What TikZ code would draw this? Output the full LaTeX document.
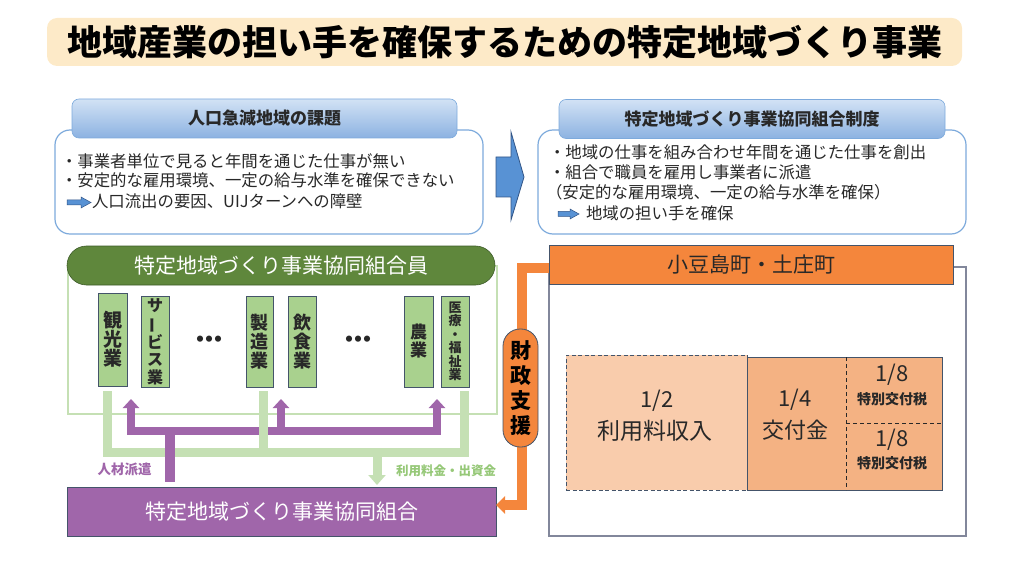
\documentclass[tikz,border=0pt]{standalone}
\usepackage{fontspec}
\setmainfont{Noto Sans CJK JP}
\usetikzlibrary{arrows.meta}
\definecolor{titlebg}{RGB}{253,234,200}
\definecolor{hdrtop}{RGB}{210,226,245}
\definecolor{hdrbot}{RGB}{140,178,225}
\definecolor{bxline}{RGB}{125,170,220}
\definecolor{arrfill}{RGB}{88,146,212}
\definecolor{arrline}{RGB}{50,85,135}
\definecolor{gban}{RGB}{95,135,60}
\definecolor{gbanline}{RGB}{60,90,40}
\definecolor{indg}{RGB}{169,209,142}
\definecolor{lgreen}{RGB}{197,224,180}
\definecolor{purp}{RGB}{160,102,170}
\definecolor{orng}{RGB}{244,134,60}
\definecolor{peach}{RGB}{249,204,172}
\definecolor{peach2}{RGB}{244,178,131}
\definecolor{dkb}{RGB}{68,84,106}
\definecolor{townline}{RGB}{130,135,155}
\definecolor{txtd}{RGB}{40,40,40}
\definecolor{lbltxt}{RGB}{150,200,120}
\begin{document}
\begin{tikzpicture}[x=1pt,y=-1pt,
  every node/.style={inner sep=0pt,outer sep=0pt},
  hdr/.style={draw=bxline,line width=0.6pt,rounded corners=7pt,top color=hdrtop,bottom color=hdrbot,
    minimum height=39pt,font=\fontsize{17}{20}\selectfont\bfseries,text=txtd},
  cbox/.style={draw=bxline,line width=1.2pt,rounded corners=15pt,fill=white,minimum height=104pt},
  bodytxt/.style={anchor=west,font=\fontsize{16.4}{19}\selectfont,text=txtd},
  ind/.style={draw=dkb,line width=0.8pt,fill=indg,minimum width=28pt,minimum height=91pt,align=center,
    font=\fontsize{18}{18.7}\selectfont\bfseries,text=txtd},
  gbar/.style={draw=lgreen,line width=9pt},
  pbar/.style={draw=purp,line width=8pt},
  oline/.style={draw=orng,line width=10pt},
  smallarr/.style={fill=arrfill,draw=arrline,line width=0.5pt},
  frac/.style={font=\fontsize{22}{24}\selectfont,text=txtd},
  fsub/.style={font=\fontsize{14}{16}\selectfont\bfseries,text=txtd}
]
\useasboundingbox (0,0) rectangle (1024,577);

% title
\node[fill=titlebg,rounded corners=10pt,minimum width=915pt,minimum height=48pt,
  font=\fontsize{35}{40}\selectfont\bfseries,text=black] (title) at (504.5,42) {地域産業の担い手を確保するための特定地域づくり事業};

% left problem box
\node[cbox,minimum width=428pt] (lbox) at (269,182) {};
\node[hdr,minimum width=385pt] (lhdr) at (264.5,118.5) {人口急減地域の課題};
\node[bodytxt] (l1) at (61,161) {・事業者単位で見ると年間を通じた仕事が無い};
\node[bodytxt] (l2) at (61,180.5) {・安定的な雇用環境、一定の給与水準を確保できない};
\draw[smallarr] (67,200) -- (81,200) -- (81,197) -- (91,202.5) -- (81,208) -- (81,205) -- (67,205) -- cycle;
\node[bodytxt] (l3) at (92,201) {人口流出の要因、UIJターンへの障壁};

% big arrow
\draw[fill=arrfill,draw=arrline,line width=0.8pt] (496,157) -- (511,157) -- (511,132) -- (524,177) -- (511,220) -- (511,197) -- (496,197) -- cycle;

% right system box
\node[cbox,minimum width=428pt] (rbox) at (752,182) {};
\node[hdr,minimum width=386pt] (rhdr) at (752,119) {特定地域づくり事業協同組合制度};
\node[bodytxt] (r1) at (549,152) {・地域の仕事を組み合わせ年間を通じた仕事を創出};
\node[bodytxt] (r2) at (549,172) {・組合で職員を雇用し事業者に派遣};
\node[bodytxt] (r3) at (546,192) {（安定的な雇用環境、一定の給与水準を確保）};
\draw[smallarr] (558,211.5) -- (570,211.5) -- (570,209) -- (579,214) -- (570,219) -- (570,216.5) -- (558,216.5) -- cycle;
\node[bodytxt] (r4) at (586,213) {地域の担い手を確保};

% members area
\draw[draw=lgreen,line width=2pt] (68,266) rectangle (497,414);
\node[fill=gban,draw=gbanline,line width=0.6pt,rounded corners=19.5pt,minimum width=428pt,minimum height=39pt,
  font=\fontsize{21}{24}\selectfont,text=white] (mem) at (281,265.5) {特定地域づくり事業協同組合員};

\node[ind,minimum width=29pt,minimum height=93pt,font=\fontsize{19}{19}\selectfont\bfseries] (kanko) at (112.5,339.5) {観\\光\\業};
\node[ind,font=\fontsize{16}{17.5}\selectfont\bfseries] (serv) at (155,341.5) {サ\\\rotatebox[origin=c]{90}{ー}\\ビ\\ス\\業};
\node[ind,minimum width=27pt] (seizo) at (259.5,341.5) {製\\造\\業};
\node[ind] (inshoku) at (302,341.5) {飲\\食\\業};
\node[ind,minimum width=29pt,font=\fontsize{17}{18}\selectfont\bfseries] (nogyo) at (418.5,341.5) {農\\業};
\node[ind,font=\fontsize{13}{13.5}\selectfont\bfseries] (iryo) at (455,341.5) {医\\療\\・\\福\\祉\\業};
\node[font=\fontsize{22}{22}\selectfont\bfseries,text=txtd] (dots1) at (209,342) {・\kern-13pt・\kern-13pt・};
\node[font=\fontsize{22}{22}\selectfont\bfseries,text=txtd] (dots2) at (358,342) {・\kern-13pt・\kern-13pt・};

% bottom cooperative box
\node[fill=purp,draw=dkb,line width=1pt,minimum width=429pt,minimum height=49pt,
  font=\fontsize{21}{24}\selectfont,text=white] (kumiai) at (281.5,511.5) {特定地域づくり事業協同組合};

% purple dispatch arrows
\coordinate (pA) at (131,399);
\coordinate (pB) at (281,399);
\coordinate (pC) at (437,399);
\coordinate (pbusL) at (131,431);
\coordinate (pbusM) at (281,431);
\coordinate (pbusR) at (437,431);
\draw[pbar,{Triangle[width=16pt,length=9pt]}-{Triangle[width=16pt,length=9pt]}] (pA) -- (pbusL) -- (pbusR) -- (pC);
\draw[pbar,-{Triangle[width=16pt,length=9pt]}] (pbusM) -- (pB);

% green fee lines
\coordinate (gA) at (107.5,391);
\coordinate (gB) at (263,391);
\coordinate (gC) at (464,391);
\coordinate (gbusA) at (107.5,452);
\coordinate (gbusB) at (263,452);
\coordinate (gbusC) at (464,452);
\coordinate (gbusD) at (377,452);
\coordinate (gD) at (377,485);
\draw[gbar] (gA) -- (gbusA) -- (gbusC) -- (gC);
\draw[gbar] (gB) -- (gbusB);
\draw[gbar,-{Triangle[width=17pt,length=10pt]}] (gbusD) -- (gD);

% purple down line
\coordinate (pTop) at (170,427);
\coordinate (pBot) at (170,482);
\draw[draw=purp,line width=10pt] (pTop) -- (pBot);

\node[font=\fontsize{13.5}{15}\selectfont\bfseries,text=purp] (jinzai) at (124.5,469) {人材派遣};
\node[font=\fontsize{12.5}{15}\selectfont\bfseries,text=lbltxt] (ryokin) at (446,471) {利用料金・出資金};

% town side
\node[draw=townline,line width=1.5pt,fill=white,minimum width=417pt,minimum height=269pt] (townbox) at (757.5,401.5) {};
\node[draw=dkb,line width=1pt,fill=orng,minimum width=404pt,minimum height=39pt,
  font=\fontsize{21}{24}\selectfont,text=txtd] (town) at (751,264.5) {小豆島町・土庄町};

% financial support connector
\draw[oline,-{Triangle[width=17pt,length=9pt]}] ([yshift=-3.5pt]town.west) -| (522,505) -- ([yshift=6.5pt]kumiai.east);
\node[draw=dkb,line width=0.8pt,fill=orng,rounded corners=17pt,minimum width=35pt,minimum height=118pt,
  align=center,font=\fontsize{21}{25}\selectfont\bfseries,text=black] (zaisei) at (520.5,388) {財\\政\\支\\援};

% fractions
\node[draw=dkb,line width=1pt,dash pattern=on 4pt off 2.5pt,fill=peach,minimum width=181pt,minimum height=135pt] (half) at (656.5,422.5) {};
\node[draw=dkb,line width=1pt,fill=peach2,minimum width=195pt,minimum height=133pt] (quarter) at (844.5,423.5) {};
\draw[line width=0.8pt,dash pattern=on 4pt off 3pt,draw=txtd] (846,357) -- (846,490);
\draw[line width=0.8pt,dash pattern=on 4pt off 3pt,draw=txtd] (846,423) -- (942,423);

\node[frac] (h1) at (657,401) {1/2};
\node[frac,font=\fontsize{23}{25}\selectfont] (h2) at (655,431) {利用料収入};
\node[frac] (q1) at (795,400) {1/4};
\node[frac] (q2) at (795,430) {交付金};
\node[frac] (e1) at (892,375) {1/8};
\node[fsub] (e2) at (892,399) {特別交付税};
\node[frac] (e3) at (892,440) {1/8};
\node[fsub] (e4) at (892,463) {特別交付税};
\end{tikzpicture}
\end{document}
